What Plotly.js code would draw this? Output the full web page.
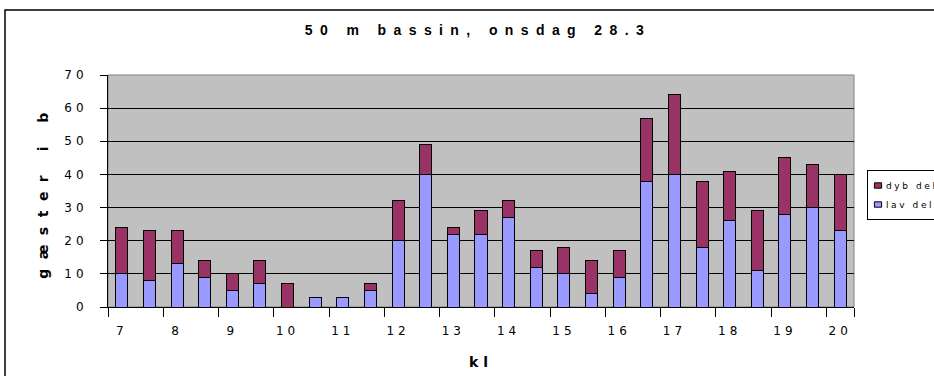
<!DOCTYPE html>
<html>
<head>
<meta charset="utf-8">
<script src="https://cdn.plot.ly/plotly-3.0.1.min.js"></script>
<style>
html,body{margin:0;padding:0;background:#fff;}
#chart{width:934px;height:376px;}
#chart .gtitle{letter-spacing:7.4px;}
#chart .xtick text, #chart .ytick text{letter-spacing:4px;}
#chart .ytitle{letter-spacing:9.5px;}
#chart .xtitle{letter-spacing:5px;}
#chart .legendtext{letter-spacing:2.6px; transform:translate(-22px,0);}
#chart .legend .layers path{transform:translate(10px,0) scale(0.6,0.45) !important; vector-effect:non-scaling-stroke;}
</style>
</head>
<body>
<div id="chart"></div>
<script>
// half-hour slots 7:00 .. 20:00
const categories = ["7:00","7:30","8:00","8:30","9:00","9:30","10:00","10:30","11:00","11:30",
  "12:00","12:30","13:00","13:30","14:00","14:30","15:00","15:30","16:00","16:30",
  "17:00","17:30","18:00","18:30","19:00","19:30","20:00"];
const lavDel = [10,8,13,9,5,7,0,3,3,5,20,40,22,22,27,12,10,4,9,38,40,18,26,11,28,30,23];
const dybDel = [14,15,10,5,5,7,7,0,0,2,12,9,2,7,5,5,8,10,8,19,24,20,15,18,17,13,17];
const hourTicks = ["7:00","8:00","9:00","10:00","11:00","12:00","13:00","14:00","15:00","16:00","17:00","18:00","19:00","20:00"];
const hourLabels = ["7","8","9","10","11","12","13","14","15","16","17","18","19","20"];
const yTickVals = [0,10,20,30,40,50,60,70];
const seriesNames = ["lav del", "dyb del"];
const titleText = "50 m bassin, onsdag 28.3";
const xTitle = "kl";
const yTitle = "gæster i b";

const FONT = "'DejaVu Sans', Verdana, sans-serif";

const traces = [
  {type:"bar", name:seriesNames[0], x:categories, y:lavDel,
   marker:{color:"#9999FF", line:{color:"#000", width:1}}},
  {type:"bar", name:seriesNames[1], x:categories, y:dybDel,
   marker:{color:"#993366", line:{color:"#000", width:1}}}
];

const L=108, R=854, T=75, B=307;
const pw=R-L, ph=B-T;
const px=v=>(v-L)/pw, py=v=>(B-v)/ph;

const layout = {
  width:934, height:376,
  margin:{l:L, r:934-R, t:T, b:376-B, pad:0, autoexpand:false},
  paper_bgcolor:"#fff", plot_bgcolor:"#C0C0C0",
  barmode:"stack", bargap:0.565,
  font:{family:FONT, color:"#000", size:10},
  title:{text:"<b>"+titleText+"</b>", font:{family:"'Liberation Sans', Arial, sans-serif", size:14, color:"#000"},
         x:px(478), xref:"paper", xanchor:"center", y:1-30/376, yref:"container", yanchor:"middle"},
  xaxis:{type:"category", tickvals:hourTicks, ticktext:hourLabels, tickson:"boundaries", tickangle:0,
         ticks:"outside", ticklen:9, tickcolor:"#000", tickwidth:1,
         showline:true, linecolor:"#000", linewidth:1, showgrid:false, zeroline:false,
         ticklabelstandoff:13, tickfont:{size:12, family:FONT},
         title:{text:"<b>"+xTitle+"</b>", font:{size:14, family:FONT}, standoff:19}},
  yaxis:{range:[0,70], tickvals:yTickVals,
         ticks:"outside", ticklen:7, tickcolor:"#000", tickwidth:1,
         showline:true, linecolor:"#000", linewidth:1,
         showgrid:true, gridcolor:"#000", gridwidth:1, zeroline:false,
         ticklabelstandoff:10, tickfont:{size:12, family:FONT},
         title:{text:"<b>"+yTitle+"</b>", font:{size:14, family:FONT}, standoff:20}},
  legend:{x:px(867), y:py(170), xanchor:"left", yanchor:"top", xref:"paper", yref:"paper",
          bgcolor:"#fff", bordercolor:"#000", borderwidth:1, traceorder:"reversed",
          font:{size:9, family:FONT}, itemwidth:30, tracegroupgap:0},
  shapes:[
    {type:"rect", xref:"paper", yref:"paper", x0:0, x1:1, y0:0, y1:1,
     line:{color:"#808080", width:1}, fillcolor:"rgba(0,0,0,0)", layer:"below"},
    {type:"rect", xref:"paper", yref:"paper", x0:px(5), x1:px(945), y0:py(390), y1:py(10),
     line:{color:"#000", width:1.5}, fillcolor:"rgba(0,0,0,0)"}
  ]
};

Plotly.newPlot("chart", traces, layout, {displayModeBar:false, staticPlot:true});
</script>
</body>
</html>
